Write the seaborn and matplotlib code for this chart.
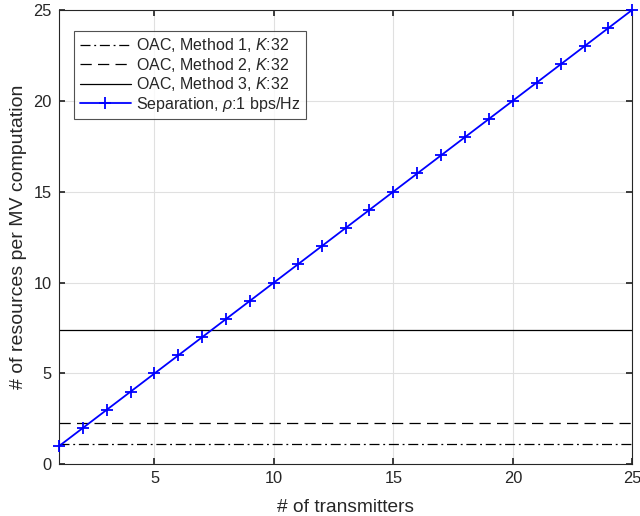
import numpy as np
import pandas as pd
import seaborn as sns
import matplotlib
matplotlib.use("Agg")
import matplotlib.pyplot as plt

# data
transmitters = list(range(1, 26))
separation = [1, 2, 3, 4, 5, 6, 7, 8, 9, 10, 11, 12, 13, 14, 15, 16, 17, 18, 19,
              20, 21, 22, 23, 24, 25]
oac_method1 = 1.14
oac_method2 = 2.28
oac_method3 = 7.39

labels = ["OAC, Method 1, $K$:32", "OAC, Method 2, $K$:32",
          "OAC, Method 3, $K$:32", r"Separation, $\rho$:1 bps/Hz"]

sns.set_theme(style="whitegrid")
plt.rcParams['font.family'] = ['Liberation Sans', 'DejaVu Sans']
plt.rcParams['mathtext.fontset'] = 'custom'
plt.rcParams['mathtext.it'] = 'Liberation Sans:italic'
plt.rcParams['mathtext.rm'] = 'Liberation Sans'

df = pd.DataFrame({
    "tx": transmitters * 4,
    "value": [oac_method1] * 25 + [oac_method2] * 25 + [oac_method3] * 25 + separation,
    "series": sum([[l] * 25 for l in labels], []),
})

fig = plt.figure(figsize=(6.4, 5.16), dpi=100)
ax = fig.add_axes([0.092, 0.1, 0.896, 0.881])

styles = [(0, (8, 3, 1.5, 3)), (0, (9, 5)), "-"]
for lab, ls in zip(labels[:3], styles):
    sub = df[df.series == lab]
    sns.lineplot(data=sub, x="tx", y="value", ax=ax, color="black", lw=0.9,
                 linestyle=ls, label=lab)

sub = df[df.series == labels[3]]
sns.lineplot(data=sub, x="tx", y="value", ax=ax, color=(0, 0, 1), lw=1.3,
             linestyle="-", marker="+", markersize=8.5, markeredgewidth=1.3,
             markeredgecolor=(0, 0, 1), label=labels[3], clip_on=False, zorder=5)

ax.set_xlim(1, 25)
ax.set_ylim(0, 25)
ax.set_xticks([5, 10, 15, 20, 25])
ax.set_yticks([0, 5, 10, 15, 20, 25])
ax.set_xlabel("# of transmitters", fontsize=13.8, color="#262626", labelpad=9)
ax.set_ylabel("# of resources per MV computation", fontsize=14, color="#262626",
              labelpad=5)
ax.tick_params(direction="in", length=4, labelsize=11.8, colors="#262626",
               top=True, right=True, bottom=True, left=True, pad=5)
ax.grid(True, color="#e0e0e0", lw=0.8)
for s in ax.spines.values():
    s.set_color("#262626")
    s.set_linewidth(0.8)
ax.set_facecolor("white")

leg = ax.legend(loc="upper left", bbox_to_anchor=(0.013, 0.972), fontsize=11.5,
                frameon=True, fancybox=False, handlelength=3.2, borderpad=0.35,
                labelspacing=0.1, handletextpad=0.3)
leg.get_frame().set_edgecolor("#262626")
leg.get_frame().set_linewidth(0.8)

fig.savefig("out.png", dpi=100)
